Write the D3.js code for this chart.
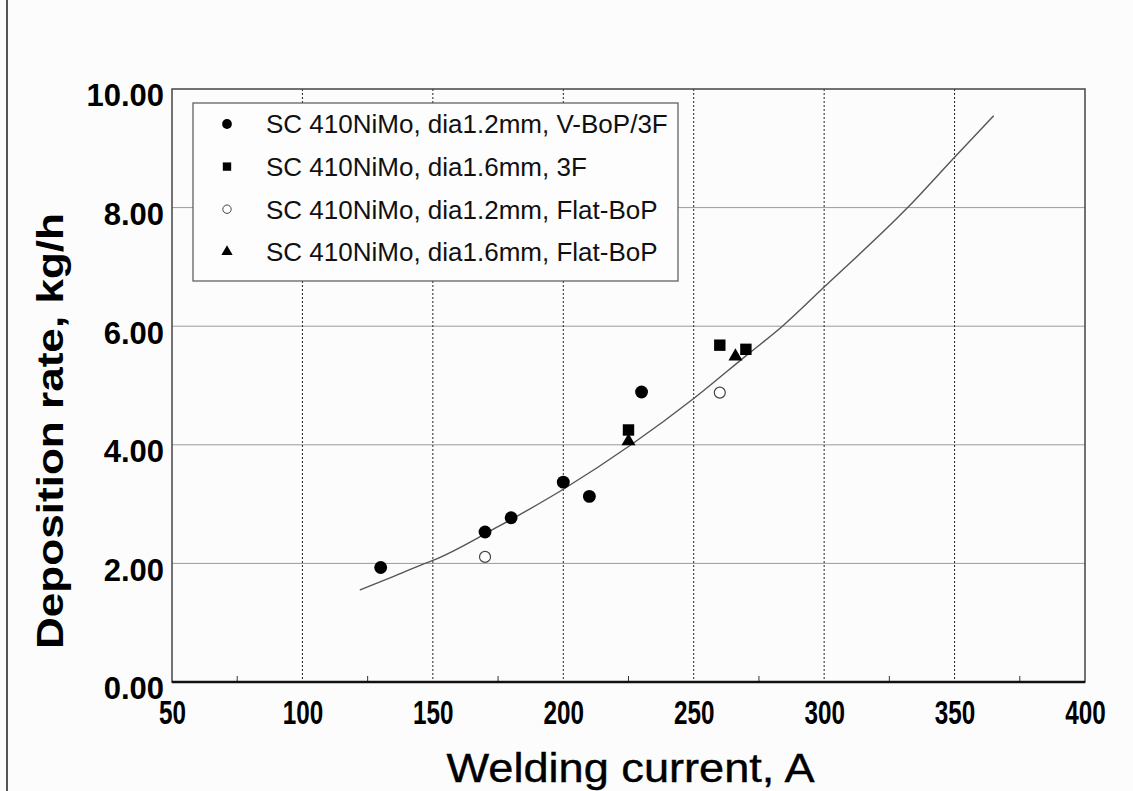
<!DOCTYPE html>
<html>
<head>
<meta charset="utf-8">
<script src="https://cdn.jsdelivr.net/npm/d3@7"></script>
<style>
  html, body { margin: 0; padding: 0; background: #fcfcfc; }
  svg { display: block; }
  text { font-family: "Liberation Sans", Arial, sans-serif; }
</style>
</head>
<body>
<script>
// ---------- data ----------
const seriesNames = [
  "SC 410NiMo, dia1.2mm, V-BoP/3F",
  "SC 410NiMo, dia1.6mm, 3F",
  "SC 410NiMo, dia1.2mm, Flat-BoP",
  "SC 410NiMo, dia1.6mm, Flat-BoP"
];
// series 1: filled circles
const s1Current = [130, 170, 180, 200, 210, 230];
const s1Rate    = [1.93, 2.53, 2.77, 3.37, 3.13, 4.89];
// series 2: filled squares
const s2Current = [225, 260, 270];
const s2Rate    = [4.25, 5.68, 5.61];
// series 3: open circles
const s3Current = [170, 260];
const s3Rate    = [2.11, 4.88];
// series 4: filled triangles
const s4Current = [225, 266];
const s4Rate    = [4.06, 5.49];
// fitted trend curve
const fitCurrent = [122, 135, 147, 150, 175, 200, 226, 250, 270, 284, 300, 332, 350, 365];
const fitRate    = [1.55, 1.78, 2.0, 2.05, 2.62, 3.25, 4.0, 4.78, 5.5, 6.0, 6.66, 8.0, 8.85, 9.55];
// axes
const xTicks = [50, 100, 150, 200, 250, 300, 350, 400];
const xMinorTicks = [75, 125, 175, 225, 275, 325, 375];
const yTicks = [0, 2, 4, 6, 8, 10];
const xLabel = "Welding current, A";
const yLabel = "Deposition rate, kg/h";

// ---------- layout ----------
const W = 1133, H = 791;
const L = 172, T = 89, R = 1085, B = 682;

const svg = d3.select("body").append("svg").attr("width", W).attr("height", H);
svg.append("rect").attr("width", W).attr("height", H).attr("fill", "#fcfcfc");

// outer figure frame fragment on the left
svg.append("line").attr("x1", 7).attr("x2", 7).attr("y1", 0).attr("y2", H)
  .attr("stroke", "#555").attr("stroke-width", 2);

const x = d3.scaleLinear().domain([50, 400]).range([L, R]);
const y = d3.scaleLinear().domain([0, 10]).range([B, T]);

// gridlines
svg.append("g").selectAll("line").data(yTicks.filter(d => d > 0 && d < 10)).join("line")
  .attr("x1", L).attr("x2", R).attr("y1", d => y(d)).attr("y2", d => y(d))
  .attr("stroke", "#9a9a9a").attr("stroke-width", 1);
svg.append("g").selectAll("line").data(xTicks.filter(d => d > 50 && d < 400)).join("line")
  .attr("y1", T).attr("y2", B).attr("x1", d => x(d)).attr("x2", d => x(d))
  .attr("stroke", "#222").attr("stroke-width", 1).attr("stroke-dasharray", "2,2");

// minor ticks on bottom axis
svg.append("g").selectAll("line").data(xMinorTicks).join("line")
  .attr("x1", d => x(d)).attr("x2", d => x(d)).attr("y1", B).attr("y2", B - 6)
  .attr("stroke", "#333").attr("stroke-width", 1);

// frame
svg.append("rect").attr("x", L).attr("y", T).attr("width", R - L).attr("height", B - T)
  .attr("fill", "none").attr("stroke", "#444").attr("stroke-width", 1.5);
svg.append("line").attr("x1", L).attr("x2", R).attr("y1", B).attr("y2", B)
  .attr("stroke", "#111").attr("stroke-width", 2.5);

// axes tick labels via d3 axes
const xAxis = svg.append("g").attr("transform", `translate(0,${B})`)
  .call(d3.axisBottom(x).tickValues(xTicks).tickSize(0).tickPadding(0).tickFormat(d3.format("d")));
xAxis.select(".domain").remove();
xAxis.selectAll("text")
  .style("font-family", "'Liberation Sans', Arial, sans-serif")
  .style("font-weight", "bold").style("font-size", "34px").attr("fill", "#000")
  .attr("dy", null).attr("y", 42)
  .attr("textLength", d => String(d).length * 13.5)
  .attr("lengthAdjust", "spacingAndGlyphs");

const yAxis = svg.append("g").attr("transform", `translate(${L},0)`)
  .call(d3.axisLeft(y).tickValues(yTicks).tickSize(0).tickPadding(8).tickFormat(d3.format(".2f")));
yAxis.select(".domain").remove();
yAxis.selectAll("text")
  .style("font-family", "'Liberation Sans', Arial, sans-serif")
  .style("font-weight", "bold").style("font-size", "31px").attr("fill", "#000")
  .attr("dy", "0.35em").attr("y", 6);

// axis titles
svg.append("text").attr("x", (L + R) / 2 + 2).attr("y", 782)
  .attr("text-anchor", "middle").attr("font-size", 40).attr("fill", "#000")
  .attr("stroke", "#000").attr("stroke-width", 0.4)
  .attr("textLength", 368).attr("lengthAdjust", "spacingAndGlyphs")
  .text(xLabel);
svg.append("text").attr("transform", "translate(63,431) rotate(-90)")
  .attr("text-anchor", "middle").attr("font-size", 37).attr("font-weight", "bold").attr("fill", "#000")
  .attr("textLength", 436).attr("lengthAdjust", "spacingAndGlyphs")
  .text(yLabel);

// fit curve
const line = d3.line().x(d => x(d[0])).y(d => y(d[1])).curve(d3.curveMonotoneX);
svg.append("path").datum(d3.zip(fitCurrent, fitRate))
  .attr("d", line).attr("fill", "none").attr("stroke", "#555").attr("stroke-width", 1.4);

// markers
const series = [
  { xs: s1Current, ys: s1Rate, type: d3.symbolCircle, size: 130, fill: "#000", stroke: "none" },
  { xs: s2Current, ys: s2Rate, type: d3.symbolSquare, size: 130, fill: "#000", stroke: "none" },
  { xs: s3Current, ys: s3Rate, type: d3.symbolCircle, size: 95, fill: "#fff", stroke: "#444" },
  { xs: s4Current, ys: s4Rate, type: d3.symbolTriangle, size: 85, fill: "#000", stroke: "none" }
];
series.forEach(s => {
  svg.append("g").selectAll("path").data(d3.zip(s.xs, s.ys)).join("path")
    .attr("transform", d => `translate(${x(d[0])},${y(d[1])})`)
    .attr("d", d3.symbol().type(s.type).size(s.size)())
    .attr("fill", s.fill).attr("stroke", s.stroke).attr("stroke-width", 1.2);
});

// legend
const lg = svg.append("g");
lg.append("rect").attr("x", 193).attr("y", 103).attr("width", 485).attr("height", 178)
  .attr("fill", "#fdfdfd").attr("stroke", "#555").attr("stroke-width", 1.2);
const legendSizes = [75, 70, 55, 55];
seriesNames.forEach((name, i) => {
  const cy = 124 + i * 42.6;
  const s = series[i];
  lg.append("path").attr("transform", `translate(227,${cy})`)
    .attr("d", d3.symbol().type(s.type).size(legendSizes[i])())
    .attr("fill", s.fill).attr("stroke", s.stroke).attr("stroke-width", 1);
  lg.append("text").attr("x", 266).attr("y", cy).attr("dy", "0.36em")
    .attr("font-size", 26).attr("fill", "#111").text(name);
});
</script>
</body>
</html>
